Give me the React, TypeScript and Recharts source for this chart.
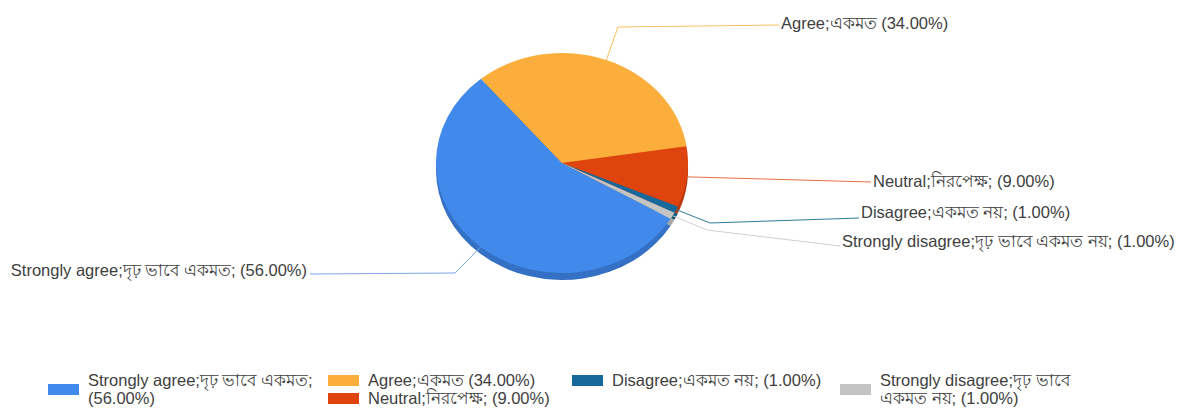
import { Cell, Legend, Pie, PieChart } from "recharts";

const NAMES = [
  "Strongly agree;দৃঢ় ভাবে একমত;",
  "Agree;একমত",
  "Neutral;নিরপেক্ষ;",
  "Disagree;একমত নয়;",
  "Strongly disagree;দৃঢ় ভাবে একমত নয়;",
];
const SHARES = [56, 34, 9, 1, 1];
const COLORS = ["#4189ea", "#fbae3c", "#e0440e", "#16699a", "#c4c4c4"];
const SIDE_COLORS = ["#3470c4", "#d9912c", "#b8370b", "#105478", "#a5a5a5"];
const LINE_COLORS = ["#7aa6e2", "#f6c15f", "#e8704a", "#2f7aa0", "#cfcfcf"];

// leader line layout (absolute px in the chart)
const LABEL_ELBOW: (number[] | null)[] = [[455, 273], [618, 27], null, [710, 223], [707, 230]];
const LABEL_END = [[310, 274], [779, 25], [871, 182], [859, 218], [840, 246]];
const LABEL_TEXT_Y = [270, 23, 181, 212, 241];

const LEGEND_COLUMNS = [[0], [1, 2], [3], [4]];
const LEGEND_COL_X = [48, 328, 572, 840];
const LEGEND_TEXT_W = [245, 230, 240, 200];

const W = 1186;
const H = 412;
const CX = 562;
const CY = 163;
const R = 126;
const K = 0.873; // vertical squash for the tilted look
const DEPTH = 7;
const START = 329.6;
const RAD = Math.PI / 180;
const FONT = "'Liberation Sans', Arial, sans-serif";
const FS = 16.5;

const data = NAMES.map((name, i) => ({
  name,
  value: SHARES[i],
  label: `${name} (${SHARES[i].toFixed(2)}%)`,
}));

const renderLabel = (props: any) => {
  const { cx, cy, midAngle, outerRadius, index } = props;
  const ax = cx + outerRadius * Math.cos(-midAngle * RAD);
  const ay = cy + outerRadius * K * Math.sin(-midAngle * RAD);
  const elbow = LABEL_ELBOW[index];
  const [ex, ey] = LABEL_END[index];
  const pts = [[ax, ay], ...(elbow ? [elbow] : []), [ex, ey]]
    .map((p) => p.join(","))
    .join(" ");
  const left = ex < cx;
  return (
    <g key={`lbl-${index}`}>
      <polyline points={pts} fill="none" stroke={LINE_COLORS[index]} strokeWidth={1} />
      <text
        x={left ? ex - 3 : ex + 2}
        y={LABEL_TEXT_Y[index]}
        textAnchor={left ? "end" : "start"}
        dominantBaseline="central"
        fontFamily={FONT}
        fontSize={FS}
        fill="#404040"
      >
        {data[index].label}
      </text>
    </g>
  );
};

const renderLegend = () => (
  <div style={{ position: "relative", width: W, height: 40, fontFamily: FONT, fontSize: FS, color: "#404040" }}>
    {LEGEND_COLUMNS.map((col, c) => (
      <div key={c} style={{ position: "absolute", left: LEGEND_COL_X[c], top: 0 }}>
        {col.map((i) => (
          <div key={i} style={{ display: "flex", alignItems: "center" }}>
            <div style={{ width: 31, height: 11, background: COLORS[i], marginRight: 9, flex: "none" }} />
            <div style={{ maxWidth: LEGEND_TEXT_W[c], lineHeight: "18px" }}>{data[i].label}</div>
          </div>
        ))}
      </div>
    ))}
  </div>
);

export default function App() {
  return (
    <div style={{ position: "absolute", left: 0, top: 0, width: W, height: H, background: "#fff" }}>
      <style>{`
        .pie-top path.recharts-sector { transform-origin: ${CX}px ${CY}px; transform: scaleY(${K}); }
        .pie-side path.recharts-sector { transform-origin: ${CX}px ${CY + DEPTH}px; transform: scaleY(${K}); }
      `}</style>
      <PieChart width={W} height={H} margin={{ top: 0, right: 0, bottom: 0, left: 0 }}>
        <Pie
          className="pie-side"
          data={data}
          dataKey="value"
          nameKey="name"
          cx={CX}
          cy={CY + DEPTH}
          outerRadius={R}
          startAngle={START}
          endAngle={START - 360}
          stroke="none"
          legendType="none"
          isAnimationActive={false}
        >
          {data.map((d, i) => (
            <Cell key={d.name} fill={SIDE_COLORS[i]} />
          ))}
        </Pie>
        <Pie
          className="pie-top"
          data={data}
          dataKey="value"
          nameKey="name"
          cx={CX}
          cy={CY}
          outerRadius={R}
          startAngle={START}
          endAngle={START - 360}
          stroke="none"
          label={renderLabel}
          labelLine={false}
          isAnimationActive={false}
        >
          {data.map((d, i) => (
            <Cell key={d.name} fill={COLORS[i]} />
          ))}
        </Pie>
        <Legend
          content={renderLegend}
          wrapperStyle={{ position: "absolute", left: 0, top: 371, width: W }}
        />
      </PieChart>
    </div>
  );
}
